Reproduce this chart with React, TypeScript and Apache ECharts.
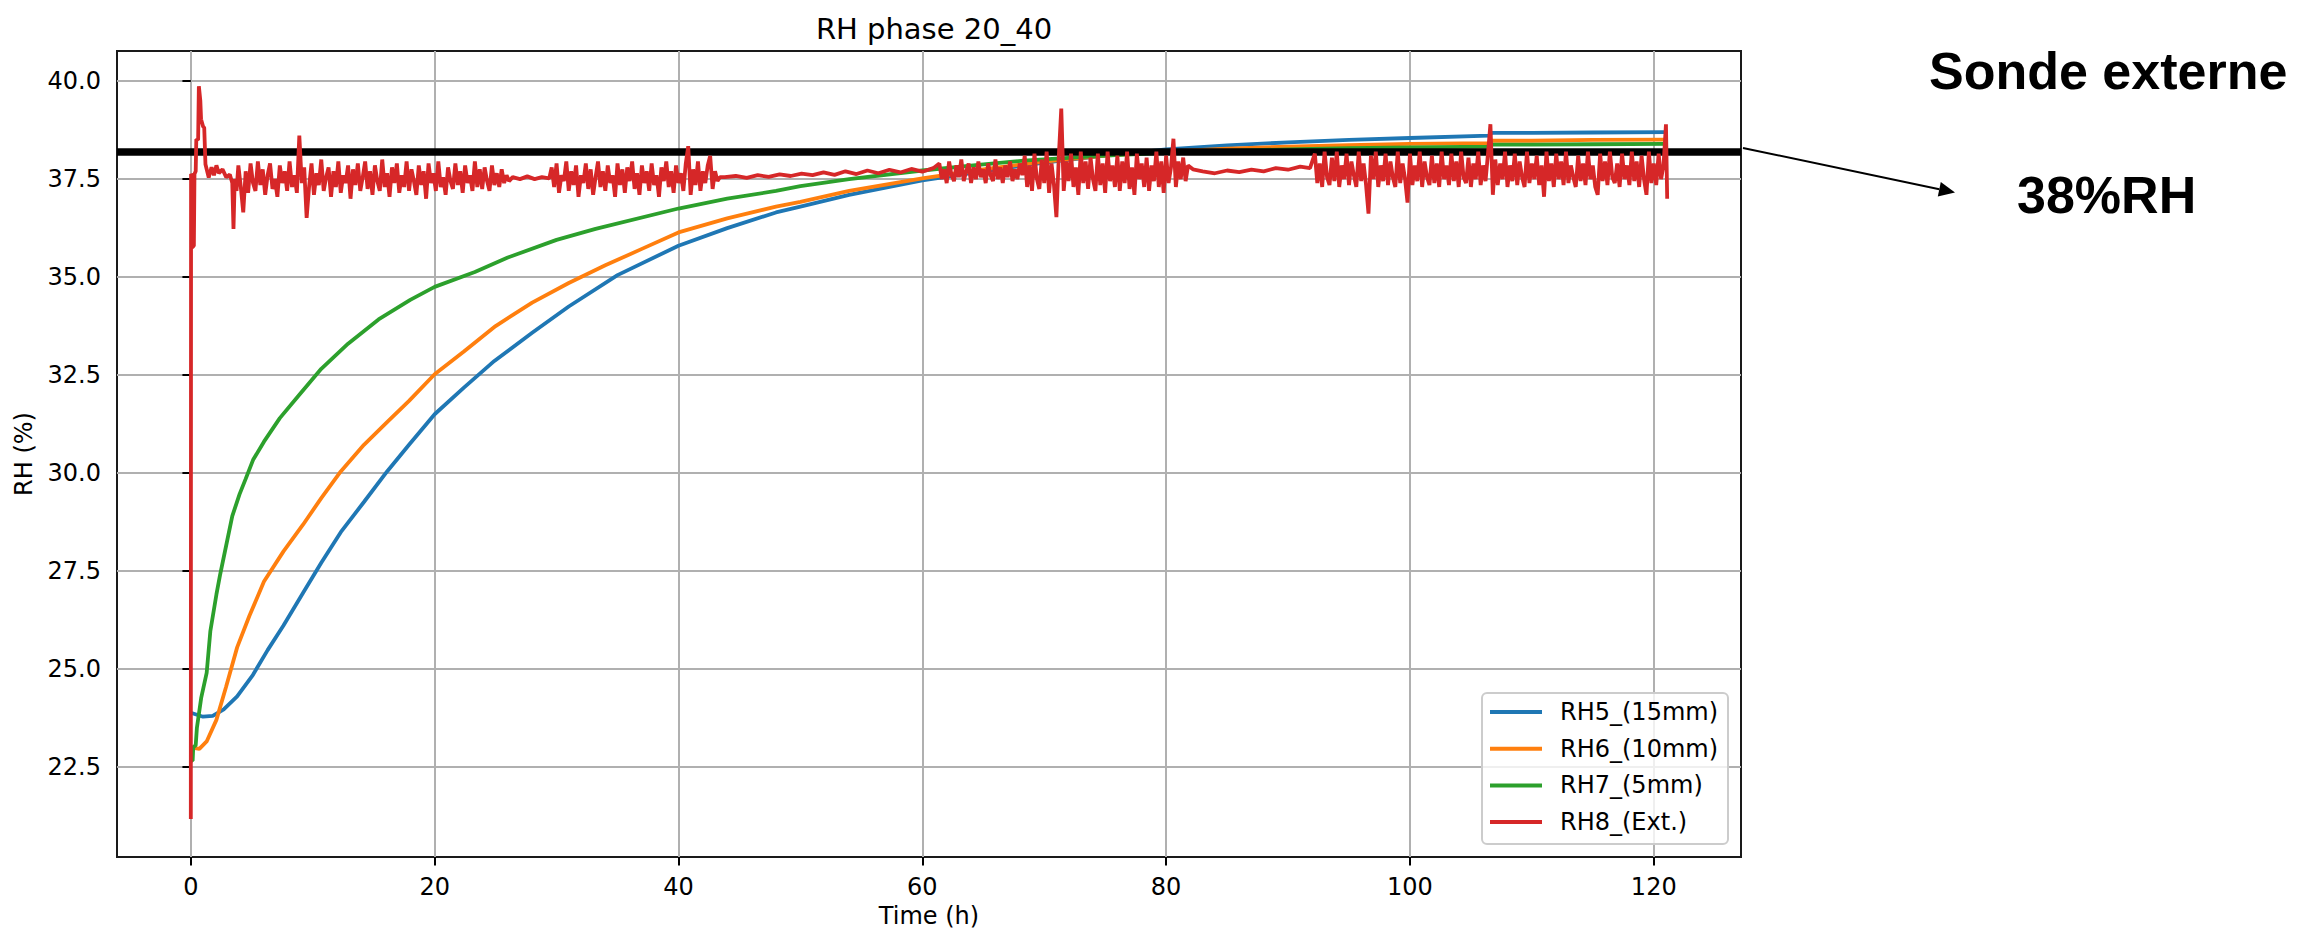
import React, { useEffect, useRef } from 'react';
import * as echarts from 'echarts';

const TITLE = 'RH phase 20_40';
const X_NAME = 'Time (h)';
const Y_NAME = 'RH (%)';
const X_TICKS = [0, 20, 40, 60, 80, 100, 120];
const Y_TICKS = [22.5, 25, 27.5, 30, 32.5, 35, 37.5, 40];
const X_MIN = -6.055;
const X_MAX = 127.155;
const Y_MIN = 20.2;
const Y_MAX = 40.77;
const SERIES_NAMES = ['RH5_(15mm)', 'RH6_(10mm)', 'RH7_(5mm)', 'RH8_(Ext.)'];
const COLORS = ['#1f77b4', '#ff7f0e', '#2ca02c', '#d62728'];
const REF_LEVEL = 38.2;
const ANNOT_TITLE = 'Sonde externe';
const ANNOT_VALUE = '38%RH';

const RH5 = [
  [0, 23.88], [1.0, 23.78], [1.8, 23.8], [2.7, 23.97], [3.8, 24.3], [5.1, 24.85], [6.3, 25.48],
  [7.6, 26.11], [9.2, 26.94], [10.7, 27.71], [12.3, 28.49], [14.2, 29.26], [16.1, 30.04],
  [17.9, 30.72], [20, 31.5], [22.4, 32.18], [24.9, 32.86], [28, 33.58], [31, 34.25], [35, 35.05],
  [40, 35.8], [44, 36.25], [48, 36.65], [50, 36.8], [54, 37.1], [60, 37.47], [65, 37.7],
  [70, 37.92], [75, 38.1], [80, 38.26], [85, 38.36], [90, 38.44], [95, 38.5], [100, 38.55],
  [106.5, 38.61], [106.7, 38.68], [110, 38.68], [115, 38.69], [121.1, 38.7],
];

const RH6 = [
  [0, 23.0], [0.7, 22.96], [1.3, 23.15], [2.1, 23.7], [2.9, 24.55], [3.8, 25.55], [4.8, 26.35],
  [6, 27.23], [7.6, 28.0], [9.2, 28.68], [10.7, 29.36], [12.3, 30.04], [14.2, 30.72],
  [16.1, 31.3], [17.9, 31.84], [20, 32.52], [22.4, 33.1], [25, 33.75], [28, 34.35],
  [31, 34.85], [34, 35.3], [37, 35.72], [40, 36.14], [44, 36.5], [48, 36.8], [50, 36.92],
  [54, 37.2], [60, 37.52], [65, 37.75], [70, 37.95], [75, 38.1], [80, 38.2], [85, 38.28],
  [90, 38.33], [95, 38.37], [100, 38.4], [106.5, 38.42], [106.7, 38.48], [110, 38.48],
  [115, 38.5], [121.1, 38.51],
];

const RH7 = [
  [0, 22.66], [0.15, 22.66], [0.2, 23.0], [0.4, 23.05], [0.5, 23.5], [0.85, 24.26], [1.3, 24.9],
  [1.6, 25.96], [2.1, 26.9], [2.4, 27.4], [2.9, 28.15], [3.4, 28.9], [4.0, 29.46], [4.5, 29.85],
  [5.1, 30.33], [6, 30.8], [7.3, 31.4], [8.85, 31.98], [10.7, 32.66], [12.9, 33.3], [15.4, 33.92],
  [18, 34.42], [20, 34.75], [23.3, 35.13], [26, 35.5], [30, 35.95], [33.2, 36.23], [40, 36.75],
  [44, 37.0], [48, 37.2], [50, 37.32], [54, 37.5], [60, 37.72], [64.8, 37.87], [68.3, 37.97],
  [75, 38.1], [80, 38.17], [85, 38.22], [90, 38.26], [95, 38.29], [100, 38.31], [106.5, 38.33],
  [106.7, 38.38], [110, 38.38], [115, 38.39], [121.1, 38.4],
];

// RH8 (external probe): irregular start, then logged segments (start time, logging step in h, readings)
const RH8_START = [
  [0, 21.17], [0.02, 37.63], [0.08, 37.6], [0.12, 35.76], [0.25, 35.8], [0.3, 37.63], [0.4, 37.7],
  [0.45, 38.52], [0.6, 38.5], [0.66, 39.87], [0.78, 39.5], [0.84, 39.03], [1.0, 38.85],
  [1.1, 38.81], [1.2, 37.88], [1.47, 37.54], [1.7, 37.8], [1.9, 37.6], [2.1, 37.85], [2.3, 37.65],
  [2.6, 37.75], [2.9, 37.55], [3.2, 37.62], [3.4, 37.4], [3.5, 36.23], [3.6, 37.5], [3.75, 37.2],
];

const RH8_BAND_A = {
  start: 3.9, step: 0.2, values: [
    37.85, 37.3, 36.65, 37.7, 37.15, 37.9, 37.4, 37.2, 37.95, 37.35,
    37.75, 37.1, 37.6, 37.9, 37.25, 37.5, 37.05, 37.85, 37.4, 37.7,
    37.2, 37.95, 37.3, 37.6, 37.15, 38.61, 37.4, 37.8, 36.51, 37.3,
    37.9, 37.1, 37.65, 37.35, 38.0, 37.2, 37.55, 37.8, 37.05, 37.7,
    37.3, 37.95, 37.15, 37.6, 37.4, 37.85, 37.0, 37.75, 37.35, 37.9,
    37.2, 37.55, 37.95, 37.25, 37.7, 37.1, 37.85, 37.45, 37.2, 38.0,
    37.3, 37.65, 37.05, 37.8, 37.4, 37.9, 37.15, 37.6, 37.3, 37.95,
    37.2, 37.75, 37.45, 37.1, 37.85, 37.35, 37.7, 37.0, 37.9, 37.4,
    37.65, 37.2, 37.95, 37.3, 37.55, 37.1, 37.8, 37.45, 37.25, 37.9,
    37.35, 37.7, 37.15, 37.85, 37.4, 37.6, 37.2, 37.95, 37.3, 37.75,
    37.25, 37.8, 37.45, 37.2, 37.85, 37.35, 37.65, 37.3, 37.75, 37.4, 37.6, 37.45,
  ],
};

const RH8_QUIET_A = [[26.4, 37.55], [27.0, 37.5], [27.6, 37.57], [28.2, 37.5], [28.8, 37.55], [29.4, 37.52]];

const RH8_BAND_B = {
  start: 29.6, step: 0.2, values: [
    37.8, 37.3, 37.9, 37.15, 37.6, 37.45, 37.95, 37.2, 37.7, 37.35,
    37.85, 37.05, 37.6, 37.4, 37.9, 37.25, 37.75, 37.1, 37.55, 37.95,
    37.3, 37.7, 37.2, 37.85, 37.4, 37.6, 37.05, 37.9, 37.35, 37.75,
    37.15, 37.8, 37.45, 37.95, 37.25, 37.65, 37.1, 37.85, 37.4, 37.7,
    37.2, 37.9, 37.35, 37.6, 37.05, 37.8, 37.45, 37.95, 37.3, 37.7,
    37.15, 37.85, 37.4, 37.65, 37.2, 37.9, 38.34, 37.1, 37.75, 37.35,
    37.95, 37.2, 37.7, 37.4, 37.85, 38.09, 37.25, 37.7, 37.45, 37.55,
  ],
};

const RH8_QUIET_B = [
  [43.8, 37.55], [44.7, 37.58], [45.6, 37.53], [46.5, 37.6], [47.4, 37.56], [48.3, 37.62], [49.2, 37.58],
  [50.1, 37.64], [51.0, 37.6], [51.9, 37.67], [52.8, 37.61], [53.7, 37.7], [54.6, 37.63], [55.5, 37.72],
  [56.4, 37.65], [57.3, 37.74], [58.2, 37.67], [59.1, 37.76], [60.0, 37.69], [60.9, 37.78],
];

const RH8_BAND_C = {
  start: 61.4, step: 0.2, values: [
    37.9, 37.5, 37.75, 37.4, 37.95, 37.6, 37.45, 37.85, 37.55, 38.0,
    37.45, 37.7, 37.9, 37.4, 37.8, 37.5, 37.95, 37.55, 37.75, 37.4,
    37.9, 37.6, 37.45, 38.0, 37.5, 37.8, 37.4, 37.85, 37.55, 37.95,
    37.45, 37.75, 37.5, 37.9, 37.6,
  ],
};

const RH8_BAND_D = {
  start: 68.4, step: 0.2, values: [
    38.1, 37.3, 37.85, 37.2, 38.15, 37.5, 37.25, 38.0, 37.4, 38.2,
    37.15, 37.9, 37.35, 36.53, 38.1, 39.3, 37.2, 37.95, 37.45, 38.15,
    37.3, 37.8, 37.1, 38.2, 37.4, 37.95, 37.25, 38.05, 37.5, 37.2,
    38.15, 37.35, 37.9, 37.15, 38.2, 37.45, 37.85, 37.3, 38.1, 37.2,
    37.95, 37.4, 38.2, 37.25, 37.8, 37.1, 38.15, 37.5, 37.9, 37.3,
    38.05, 37.2, 37.85, 37.45, 38.2, 37.3, 37.95, 37.15, 38.1, 37.4,
    37.8, 38.53, 37.3, 37.95, 37.5, 38.05, 37.45, 37.85,
  ],
};

const RH8_QUIET_C = [
  [82.2, 37.75], [83.0, 37.7], [84.0, 37.65], [85.0, 37.72], [86.0, 37.68], [87.0, 37.74], [88.0, 37.7],
  [89.0, 37.78], [90.0, 37.74], [91.0, 37.82], [91.8, 37.78],
];

const RH8_BAND_E = {
  start: 92.2, step: 0.2, values: [
    38.15, 37.4, 37.9, 37.3, 38.2, 37.55, 37.35, 38.05, 37.45, 38.2,
    37.3, 37.85, 37.5, 38.15, 37.35, 37.95, 37.6, 37.3, 38.2, 37.45,
    37.9, 37.35, 36.62, 38.1, 37.5, 38.2, 37.3, 37.85, 37.45, 38.15,
    37.35, 37.95, 37.55, 37.3, 38.2, 37.4, 37.9, 37.5, 36.9, 38.15,
    37.35, 37.85, 37.45, 38.2, 37.3, 37.95, 37.55, 37.35, 38.1, 37.4,
    37.9, 37.3, 38.2, 37.5, 37.85, 37.35, 38.15, 37.45, 37.95, 37.3,
    38.2, 37.55, 37.4, 38.05, 37.3, 37.9, 37.5, 38.2, 37.35, 37.85,
    37.45, 38.15, 38.9, 37.1, 38.0, 37.35, 37.9, 37.5, 38.2, 37.3,
    37.85, 37.45, 38.15, 37.35, 37.95, 37.55, 37.3, 38.2, 37.4, 37.9,
    37.5, 38.1, 37.35, 37.85, 37.05, 38.2, 37.45, 37.9, 37.3, 38.15,
    37.5, 37.95, 37.35, 38.2, 37.4, 37.85, 37.55, 37.3, 38.1, 37.45,
    37.9, 37.35, 38.2, 37.5, 37.85, 37.3, 37.1, 38.15, 37.45, 37.95,
    37.35, 38.2, 37.55, 37.4, 37.9, 37.3, 38.15, 37.5, 37.85, 37.35,
    38.2, 37.45, 37.95, 37.3, 38.1, 37.5, 37.1, 38.2, 37.4, 37.9,
    37.35, 38.15, 37.5, 37.85, 38.9,
  ],
};

const RH8_END = [[121.1, 37.0]];

const logged = (seg: { start: number; step: number; values: number[] }) =>
  seg.values.map((v, i) => [Math.round((seg.start + i * seg.step) * 100) / 100, v]);

const RH8 = [
  ...RH8_START, ...logged(RH8_BAND_A), ...RH8_QUIET_A, ...logged(RH8_BAND_B), ...RH8_QUIET_B,
  ...logged(RH8_BAND_C), ...logged(RH8_BAND_D), ...RH8_QUIET_C, ...logged(RH8_BAND_E), ...RH8_END,
];

const SERIES_DATA = [RH5, RH6, RH7, RH8];

const FONT = 'DejaVu Sans';

export default function App() {
  const ref = useRef<HTMLDivElement>(null);

  useEffect(() => {
    document.body.style.margin = '0';
    const chart = echarts.init(ref.current!, null, { renderer: 'svg' });

    const lineSeries: any[] = SERIES_NAMES.map((name, i) => ({
      name,
      type: 'line',
      data: SERIES_DATA[i],
      showSymbol: false,
      symbol: 'none',
      color: COLORS[i],
      lineStyle: { color: COLORS[i], width: 3.8 },
      itemStyle: { color: COLORS[i] },
      emphasis: { disabled: true },
      z: 2 + i,
      animation: false,
    }));

    lineSeries.push({
      name: 'ref',
      type: 'line',
      data: [],
      showSymbol: false,
      symbol: 'none',
      z: 20,
      animation: false,
      markLine: {
        silent: true,
        symbol: ['none', 'none'],
        label: { show: false },
        emphasis: { disabled: true },
        lineStyle: { color: '#000', width: 7.5, type: 'solid' },
        data: [{ yAxis: REF_LEVEL }],
        animation: false,
      },
    });

    chart.setOption({
      animation: false,
      backgroundColor: '#ffffff',
      title: {
        text: TITLE,
        left: 929,
        top: 9,
        textAlign: 'center',
        textStyle: { fontFamily: FONT, fontSize: 29, fontWeight: 'normal', color: '#000' },
      },
      grid: {
        left: 117,
        top: 51,
        right: 559,
        bottom: 73,
        containLabel: false,
        outerBoundsMode: 'none',
        show: true,
        borderColor: '#1a1a1a',
        borderWidth: 2,
        backgroundColor: 'transparent',
      },
      legend: {
        data: SERIES_NAMES,
        orient: 'vertical',
        left: 1482,
        top: 693,
        padding: [7, 10, 10, 8],
        icon: 'rect',
        itemWidth: 52,
        itemHeight: 4,
        itemGap: 12.7,
        backgroundColor: 'rgba(255,255,255,0.8)',
        borderColor: '#cccccc',
        borderWidth: 2,
        borderRadius: 5,
        textStyle: { fontFamily: FONT, fontSize: 24, color: '#000', lineHeight: 24, padding: [0, 0, 0, 13] },
        selectedMode: false,
      },
      xAxis: {
        type: 'value',
        min: X_MIN,
        max: X_MAX,
        name: X_NAME,
        nameLocation: 'middle',
        nameGap: 45,
        nameTextStyle: { fontFamily: FONT, fontSize: 24, color: '#000' },
        axisLine: { show: false },
        axisTick: {
          show: true,
          inside: false,
          length: 8.4,
          lineStyle: { color: '#000', width: 2 },
          customValues: X_TICKS,
        },
        axisLabel: {
          customValues: X_TICKS,
          margin: 18,
          fontFamily: FONT,
          fontSize: 24,
          color: '#000',
          formatter: (v: number) => String(v),
        },
        splitLine: { show: true, lineStyle: { color: '#b0b0b0', width: 2 } },
      },
      yAxis: {
        type: 'value',
        min: Y_MIN,
        max: Y_MAX,
        name: Y_NAME,
        nameLocation: 'middle',
        nameGap: 81,
        nameRotate: 90,
        nameTextStyle: { fontFamily: FONT, fontSize: 24, color: '#000' },
        axisLine: { show: false },
        axisTick: {
          show: true,
          inside: false,
          length: 8.4,
          lineStyle: { color: '#000', width: 2 },
          customValues: Y_TICKS,
        },
        axisLabel: {
          customValues: Y_TICKS,
          margin: 16,
          fontFamily: FONT,
          fontSize: 24,
          color: '#000',
          formatter: (v: number) => v.toFixed(1),
        },
        splitLine: { show: true, lineStyle: { color: '#b0b0b0', width: 2 } },
      },
      series: lineSeries,
      graphic: [
        {
          type: 'line',
          silent: true,
          shape: { x1: 1743, y1: 148, x2: 1939.3, y2: 189.2 },
          style: { stroke: '#000', lineWidth: 2 },
          z: 100,
        },
        {
          type: 'polygon',
          silent: true,
          shape: { points: [[1955, 192.5], [1937.8, 196.5], [1940.8, 181.9]] },
          style: { fill: '#000' },
          z: 100,
        },
        {
          type: 'text',
          silent: true,
          x: 1929,
          y: 71,
          style: {
            text: ANNOT_TITLE,
            fontFamily: 'Liberation Sans',
            fontWeight: 'bold',
            fontSize: 52,
            fill: '#000',
            align: 'left',
            verticalAlign: 'middle',
          },
          z: 100,
        },
        {
          type: 'text',
          silent: true,
          x: 2017,
          y: 195,
          style: {
            text: ANNOT_VALUE,
            fontFamily: 'Liberation Sans',
            fontWeight: 'bold',
            fontSize: 52,
            fill: '#000',
            align: 'left',
            verticalAlign: 'middle',
          },
          z: 100,
        },
      ],
    });

    return () => {
      chart.dispose();
    };
  }, []);

  return <div ref={ref} style={{ width: 2300, height: 930, background: '#fff' }} />;
}
